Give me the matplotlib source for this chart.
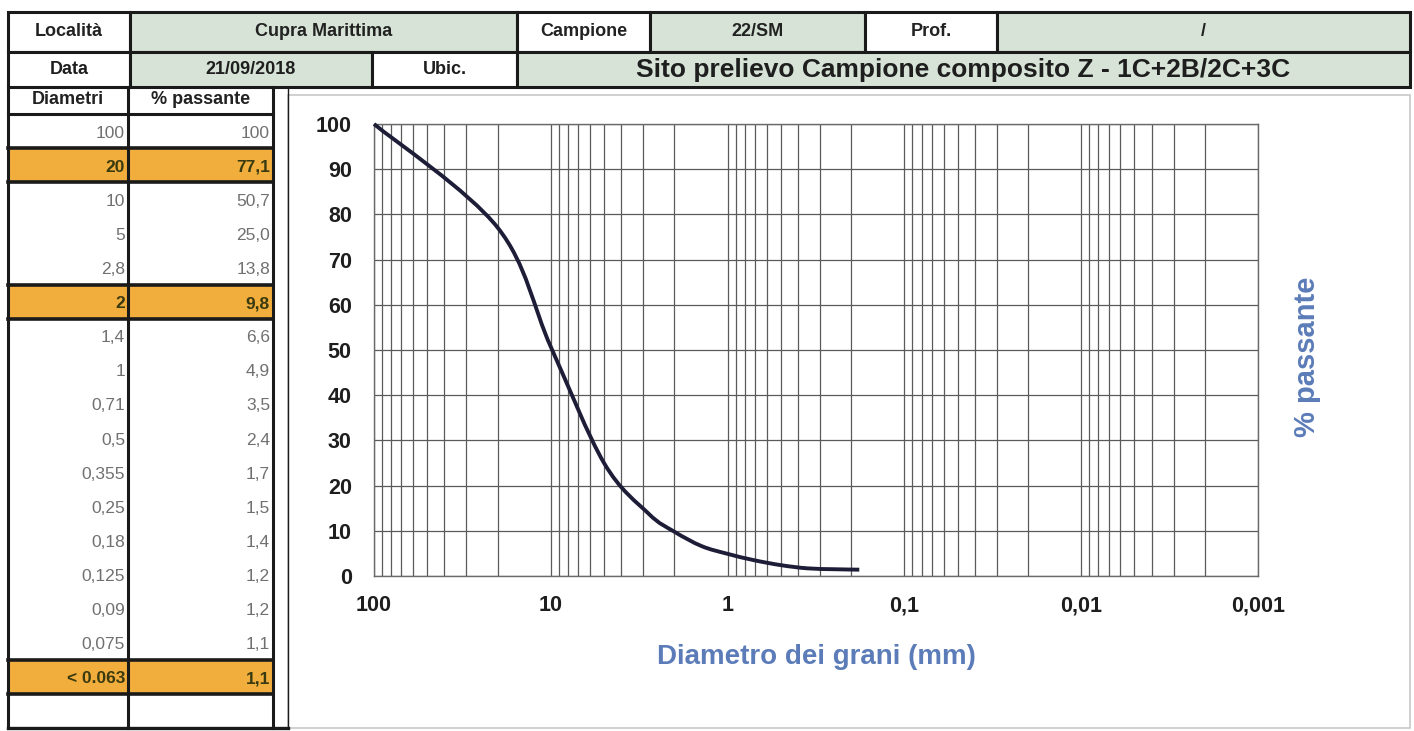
import numpy as np
import matplotlib
matplotlib.use("Agg")
import matplotlib.pyplot as plt
from matplotlib.patches import Rectangle, PathPatch
from matplotlib.path import Path
from matplotlib.ticker import LogLocator, FixedLocator, NullFormatter

# ---- data read from the sheet ----
header_row1 = ["Località", "Cupra Marittima", "Campione", "22/SM", "Prof.", "/"]
header_row2 = ["Data", "21/09/2018", "Ubic.", "Sito prelievo Campione composito Z - 1C+2B/2C+3C"]

table_head = ["Diametri", "% passante"]
diam_labels = ["100", "20", "10", "5", "2,8", "2", "1,4", "1", "0,71", "0,5",
               "0,355", "0,25", "0,18", "0,125", "0,09", "0,075", "< 0.063"]
pass_labels = ["100", "77,1", "50,7", "25,0", "13,8", "9,8", "6,6", "4,9", "3,5", "2,4",
               "1,7", "1,5", "1,4", "1,2", "1,2", "1,1", "1,1"]
highlight = [1, 5, 16]   # orange rows

# curve plotted on the chart (Excel series stops at 0,18 mm)
diametri = [100, 20, 10, 5, 2.8, 2, 1.4, 1, 0.71, 0.5, 0.355, 0.25, 0.18]
passante = [100, 77.1, 50.7, 25.0, 13.8, 9.8, 6.6, 4.9, 3.5, 2.4, 1.7, 1.5, 1.4]

x_ticks = [100, 10, 1, 0.1, 0.01, 0.001]
x_ticklabels = ["100", "10", "1", "0,1", "0,01", "0,001"]

# ---- style ----
W, H = 1414, 731
green = "#d6e3d6"
orange = "#f1ae3c"
blue = "#5b7cb8"
plt.rcParams['font.family'] = ['Liberation Sans', 'DejaVu Sans']

fig = plt.figure(figsize=(W / 100, H / 100), dpi=100)
bg = fig.add_axes([0, 0, 1, 1])
bg.set_xlim(0, W)
bg.set_ylim(H, 0)
bg.axis("off")


def cell(x0, x1, y0, y1, fc, lw=2.2):
    bg.add_patch(Rectangle((x0, y0), x1 - x0, y1 - y0, fc=fc, ec="#1a1a1a", lw=lw, zorder=1))


# header rows
edges1 = [8, 130, 517, 650, 865, 997, 1410]
fills1 = ["white", green, "white", green, "white", green]
for i, txt in enumerate(header_row1):
    cell(edges1[i], edges1[i + 1], 12, 52, fills1[i])
    bg.text((edges1[i] + edges1[i + 1]) / 2, 32, txt, ha="center", va="center",
            fontsize=13, fontweight="bold", color="#222222")

edges2 = [8, 130, 372, 517, 1410]
fills2 = ["white", green, "white", green]
sizes2 = [13, 13, 13, 19]
for i, txt in enumerate(header_row2):
    cell(edges2[i], edges2[i + 1], 52, 87, fills2[i])
    bg.text((edges2[i] + edges2[i + 1]) / 2, 70, txt, ha="center", va="center",
            fontsize=sizes2[i], fontweight="bold", color="#1e1e1e")

# left table
cols = [8, 128, 273]
top, head_bot, bottom = 87, 114, 728
n_rows = len(diam_labels) + 1
rh = (bottom - head_bot) / n_rows

# chart panel background
bg.add_patch(Rectangle((288, 95), 1410 - 288, 728 - 95, fc="white", ec="#c8c8c8", lw=1.2, zorder=0))

for j, txt in enumerate(table_head):
    bg.text((cols[j] + cols[j + 1]) / 2, (top + head_bot) / 2 - 1, txt, ha="center", va="center",
            fontsize=13, fontweight="bold", color="#222222")

for i in range(len(diam_labels)):
    y0 = head_bot + i * rh
    yc = y0 + rh / 2 + 2
    hl = i in highlight
    if hl:
        bg.add_patch(Rectangle((cols[0], y0), cols[2] - cols[0], rh, fc=orange, ec="none", zorder=1))
        bg.plot([cols[0], cols[2]], [y0, y0], color="#1a1a1a", lw=2.6, zorder=3)
        bg.plot([cols[0], cols[2]], [y0 + rh, y0 + rh], color="#1a1a1a", lw=2.6, zorder=3)
    c = "#3a3a10" if hl else "#707070"
    fw = "bold" if hl else "normal"
    bg.text(cols[1] - 3, yc, diam_labels[i], ha="right", va="center", fontsize=12.5, color=c, fontweight=fw, zorder=4)
    bg.text(cols[2] - 3, yc, pass_labels[i], ha="right", va="center", fontsize=12.5, color=c, fontweight=fw, zorder=4)

bg.plot([cols[0], cols[2]], [head_bot, head_bot], color="#1a1a1a", lw=2.2, zorder=3)
bg.plot([cols[0], 288], [bottom, bottom], color="#1a1a1a", lw=2.4, zorder=3)
for x in cols:
    bg.plot([x, x], [top, bottom], color="#1a1a1a", lw=2.2, zorder=3)
bg.plot([288, 288], [top, bottom], color="#1a1a1a", lw=1.0, zorder=3)

# ---- chart ----
L, R, T, B = 374, 1258, 124, 576
ax = fig.add_axes([L / W, (H - B) / H, (R - L) / W, (B - T) / H])
ax.set_xscale("log")
ax.set_xlim(100, 0.001)
ax.set_ylim(0, 100)
ax.xaxis.set_major_locator(FixedLocator(x_ticks))
ax.set_xticklabels(x_ticklabels)
ax.xaxis.set_minor_locator(LogLocator(base=10, subs=np.arange(2, 10)))
ax.xaxis.set_minor_formatter(NullFormatter())
ax.set_yticks(np.arange(0, 101, 10))
ax.grid(True, which="both", axis="x", color="#5a5a5a", lw=0.9)
ax.grid(True, which="major", axis="y", color="#5a5a5a", lw=0.9)
ax.tick_params(axis="both", which="both", length=0)
ax.tick_params(axis="x", pad=14, labelsize=15.5)
ax.tick_params(axis="y", pad=16, labelsize=15.5)
for lab in ax.get_xticklabels() + ax.get_yticklabels():
    lab.set_fontweight("bold")
    lab.set_color("#1e1e1e")
for s in ax.spines.values():
    s.set_color("#6a6a6a")
    s.set_linewidth(1.0)

# smooth curve through the points (Catmull-Rom in log-x space, like Excel's smoothed line)
lx = np.log10(diametri)
py = np.array(passante, dtype=float)
pts = np.column_stack([lx, py])
verts = [pts[0]]
codes = [Path.MOVETO]
for k in range(len(pts) - 1):
    p0 = pts[k - 1] if k > 0 else pts[k]
    p1, p2 = pts[k], pts[k + 1]
    p3 = pts[k + 2] if k + 2 < len(pts) else pts[k + 1]
    c1 = p1 + (p2 - p0) / 6
    c2 = p2 - (p3 - p1) / 6
    verts += [c1, c2, p2]
    codes += [Path.CURVE4] * 3
verts = np.array(verts)
verts[:, 0] = 10 ** verts[:, 0]
ax.add_patch(PathPatch(Path(verts, codes), fc="none", ec="#1d1d38", lw=2.8, zorder=5, clip_on=False))

ax.set_xlabel("Diametro dei grani (mm)", fontsize=20, fontweight="bold", color=blue, labelpad=20)
fig.text(1307 / W, 1 - 357 / H, "% passante", rotation=90, ha="center", va="center",
         fontsize=21, fontweight="bold", color=blue)

fig.savefig("out.png", dpi=100)
